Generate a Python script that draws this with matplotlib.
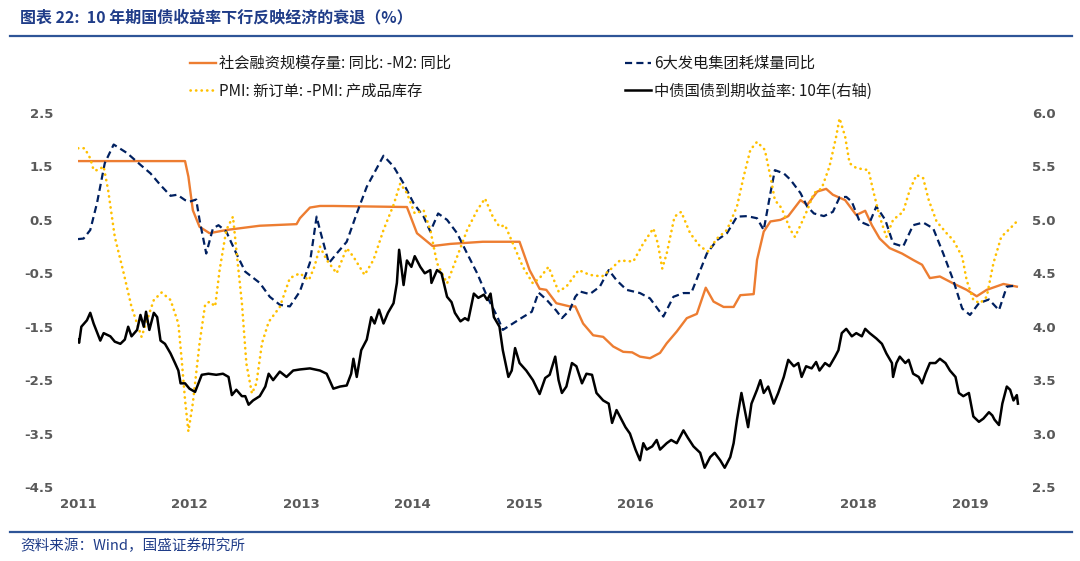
import numpy as np
import matplotlib
matplotlib.use("Agg")
import matplotlib.pyplot as plt
from matplotlib.lines import Line2D

plt.rcParams['font.family'] = ['Noto Sans CJK SC', 'DejaVu Sans']

# 社会融资规模存量:同比 - M2:同比 (left axis)
tsf_x = [2011.00, 2011.96, 2011.99, 2012.03, 2012.09, 2012.18, 2012.33, 2012.63, 2012.96, 2012.99,
         2013.08, 2013.17, 2013.29, 2013.95, 2014.04, 2014.18, 2014.34, 2014.63, 2014.96, 2015.05,
         2015.14, 2015.20, 2015.29, 2015.41, 2015.46, 2015.53, 2015.62, 2015.71, 2015.80, 2015.89,
         2015.97, 2016.04, 2016.13, 2016.22, 2016.28, 2016.37, 2016.46, 2016.55, 2016.63, 2016.70,
         2016.79, 2016.88, 2016.94, 2017.06, 2017.09, 2017.15, 2017.21, 2017.30, 2017.37, 2017.48,
         2017.54, 2017.63, 2017.71, 2017.77, 2017.88, 2017.98, 2018.06, 2018.12, 2018.19, 2018.28,
         2018.39, 2018.49, 2018.57, 2018.64, 2018.73, 2018.85, 2018.97, 2019.06, 2019.15, 2019.30,
         2019.42]
tsf_y = [1.60, 1.60, 1.31, 0.68, 0.37, 0.25, 0.31, 0.39, 0.42, 0.53,
         0.73, 0.76, 0.76, 0.74, 0.25, 0.01, 0.05, 0.09, 0.09, -0.44,
         -0.79, -0.81, -1.06, -1.12, -1.12, -1.44, -1.66, -1.69, -1.87, -1.97,
         -1.98, -2.06, -2.09, -1.99, -1.81, -1.59, -1.34, -1.26, -0.77, -1.03,
         -1.13, -1.13, -0.91, -0.89, -0.25, 0.28, 0.47, 0.50, 0.57, 0.87,
         0.78, 1.03, 1.08, 0.97, 0.87, 0.59, 0.67, 0.40, 0.15, -0.03,
         -0.13, -0.25, -0.34, -0.59, -0.56, -0.69, -0.81, -0.93, -0.81, -0.70,
         -0.75]

# 6大发电集团耗煤量同比 (left axis)
coal_x = [2011.00, 2011.05, 2011.11, 2011.17, 2011.24, 2011.32, 2011.44, 2011.56, 2011.65, 2011.74,
          2011.83, 2011.89, 2011.96, 2012.00, 2012.06, 2012.09, 2012.15, 2012.21, 2012.26, 2012.33,
          2012.42, 2012.50, 2012.63, 2012.72, 2012.81, 2012.90, 2012.99, 2013.08, 2013.14, 2013.17,
          2013.25, 2013.32, 2013.41, 2013.50, 2013.59, 2013.74, 2013.83, 2013.92, 2014.01, 2014.10,
          2014.16, 2014.23, 2014.31, 2014.40, 2014.49, 2014.58, 2014.67, 2014.76, 2014.81, 2014.90,
          2014.99, 2015.07, 2015.13, 2015.20, 2015.29, 2015.34, 2015.41, 2015.46, 2015.50, 2015.59,
          2015.68, 2015.76, 2015.83, 2015.92, 2016.04, 2016.13, 2016.25, 2016.34, 2016.43, 2016.50,
          2016.64, 2016.73, 2016.82, 2016.91, 2017.00, 2017.09, 2017.15, 2017.21, 2017.25, 2017.33,
          2017.39, 2017.48, 2017.54, 2017.60, 2017.69, 2017.77, 2017.83, 2017.89, 2017.94, 2018.01,
          2018.09, 2018.16, 2018.24, 2018.31, 2018.40, 2018.49, 2018.58, 2018.67, 2018.76, 2018.85,
          2018.93, 2019.00, 2019.08, 2019.17, 2019.26, 2019.33, 2019.42]
coal_y = [0.14, 0.15, 0.31, 0.81, 1.56, 1.91, 1.75, 1.53, 1.37, 1.15,
          0.95, 0.97, 0.87, 0.84, 0.88, 0.50, -0.13, 0.34, 0.40, 0.28,
          -0.13, -0.47, -0.68, -0.94, -1.09, -1.12, -0.84, -0.30, 0.56, 0.31,
          -0.31, -0.13, 0.09, 0.62, 1.12, 1.70, 1.50, 1.18, 0.81, 0.56,
          0.28, 0.62, 0.50, 0.25, -0.13, -0.50, -0.94, -1.31, -1.56, -1.44,
          -1.32, -1.22, -0.86, -0.99, -1.20, -1.34, -1.19, -0.94, -0.84, -0.89,
          -0.75, -0.44, -0.63, -0.81, -0.87, -0.97, -1.31, -0.94, -0.87, -0.87,
          -0.13, 0.12, 0.25, 0.56, 0.57, 0.53, 0.31, 1.00, 1.43, 1.37,
          1.25, 1.00, 0.75, 0.62, 0.57, 0.65, 0.92, 0.93, 0.84, 0.47,
          0.40, 0.75, 0.50, 0.06, 0.00, 0.40, 0.45, 0.34, -0.13, -0.63,
          -1.16, -1.28, -1.06, -0.99, -1.19, -0.75, -0.73]

# PMI:新订单 - PMI:产成品库存 (left axis)
pmi_x = [2011.00, 2011.06, 2011.11, 2011.14, 2011.18, 2011.23, 2011.27, 2011.33, 2011.41, 2011.48,
         2011.54, 2011.57, 2011.62, 2011.68, 2011.75, 2011.83, 2011.90, 2011.93, 2011.96, 2011.99,
         2012.03, 2012.09, 2012.14, 2012.18, 2012.23, 2012.27, 2012.33, 2012.39, 2012.42, 2012.47,
         2012.51, 2012.56, 2012.60, 2012.65, 2012.71, 2012.81, 2012.90, 2012.99, 2013.07, 2013.12,
         2013.17, 2013.23, 2013.32, 2013.41, 2013.47, 2013.57, 2013.65, 2013.74, 2013.83, 2013.89,
         2013.95, 2014.02, 2014.10, 2014.16, 2014.22, 2014.31, 2014.40, 2014.49, 2014.58, 2014.65,
         2014.72, 2014.78, 2014.83, 2014.90, 2014.99, 2015.08, 2015.14, 2015.22, 2015.31, 2015.38,
         2015.49, 2015.59, 2015.70, 2015.77, 2015.86, 2015.98, 2016.07, 2016.16, 2016.20, 2016.24,
         2016.28, 2016.35, 2016.41, 2016.49, 2016.58, 2016.65, 2016.73, 2016.82, 2016.91, 2016.97,
         2017.03, 2017.09, 2017.16, 2017.21, 2017.25, 2017.31, 2017.39, 2017.43, 2017.48, 2017.54,
         2017.60, 2017.67, 2017.74, 2017.80, 2017.83, 2017.88, 2017.92, 2017.98, 2018.09, 2018.13,
         2018.19, 2018.25, 2018.31, 2018.40, 2018.46, 2018.52, 2018.58, 2018.63, 2018.70, 2018.79,
         2018.85, 2018.93, 2018.97, 2019.03, 2019.09, 2019.15, 2019.21, 2019.28, 2019.36, 2019.42]
pmi_y = [1.84, 1.84, 1.65, 1.43, 1.43, 1.50, 1.06, 0.18, -0.50, -1.13,
         -1.50, -1.69, -1.37, -1.00, -0.86, -1.00, -1.44, -2.12, -2.87, -3.46,
         -2.93, -1.81, -1.09, -1.03, -1.12, -0.44, 0.31, 0.56, -0.06, -1.06,
         -2.19, -2.75, -2.56, -1.81, -1.41, -1.13, -0.59, -0.50, -0.63, -0.38,
         0.00, -0.25, -0.50, -0.03, -0.19, -0.53, -0.25, 0.31, 0.78, 1.18,
         1.00, 0.62, 0.68, 0.31, -0.31, -0.69, -0.19, 0.31, 0.68, 0.90,
         0.56, 0.37, 0.40, 0.06, -0.38, -0.69, -0.59, -0.38, -0.84, -0.75,
         -0.44, -0.53, -0.56, -0.44, -0.26, -0.28, 0.06, 0.34, 0.06, -0.41,
         -0.13, 0.56, 0.65, 0.25, 0.00, -0.09, 0.15, 0.31, 0.75, 1.31,
         1.81, 1.96, 1.81, 1.31, 0.87, 0.72, 0.31, 0.18, 0.40, 0.68,
         1.00, 1.09, 1.50, 2.06, 2.40, 2.06, 1.56, 1.47, 1.43, 1.06,
         0.56, 0.18, 0.50, 0.65, 1.06, 1.34, 1.28, 0.87, 0.47, 0.25,
         0.12, -0.19, -0.63, -1.00, -1.06, -0.94, -0.31, 0.18, 0.34, 0.47]

# 中债国债到期收益率:10年 (right axis)
cgb_x = [2011.00, 2011.01, 2011.03, 2011.08, 2011.11, 2011.14, 2011.17, 2011.20, 2011.23, 2011.29,
         2011.33, 2011.38, 2011.42, 2011.45, 2011.48, 2011.53, 2011.56, 2011.59, 2011.61, 2011.64,
         2011.68, 2011.71, 2011.74, 2011.78, 2011.83, 2011.87, 2011.90, 2011.92, 2011.96, 2012.00,
         2012.05, 2012.08, 2012.11, 2012.17, 2012.24, 2012.30, 2012.35, 2012.38, 2012.42, 2012.47,
         2012.50, 2012.53, 2012.57, 2012.63, 2012.68, 2012.71, 2012.75, 2012.81, 2012.87, 2012.93,
         2012.99, 2013.08, 2013.17, 2013.23, 2013.29, 2013.35, 2013.41, 2013.45, 2013.47, 2013.50,
         2013.54, 2013.59, 2013.63, 2013.66, 2013.70, 2013.74, 2013.78, 2013.83, 2013.86, 2013.88,
         2013.90, 2013.92, 2013.95, 2013.99, 2014.02, 2014.07, 2014.11, 2014.16, 2014.17, 2014.22,
         2014.26, 2014.31, 2014.35, 2014.38, 2014.43, 2014.47, 2014.50, 2014.55, 2014.59, 2014.64,
         2014.67, 2014.70, 2014.73, 2014.78, 2014.81, 2014.86, 2014.89, 2014.92, 2014.96, 2015.02,
         2015.08, 2015.14, 2015.19, 2015.23, 2015.28, 2015.31, 2015.34, 2015.38, 2015.43, 2015.47,
         2015.52, 2015.56, 2015.61, 2015.65, 2015.71, 2015.76, 2015.79, 2015.83, 2015.86, 2015.91,
         2015.95, 2016.00, 2016.04, 2016.07, 2016.10, 2016.15, 2016.19, 2016.22, 2016.28, 2016.32,
         2016.37, 2016.43, 2016.47, 2016.52, 2016.58, 2016.62, 2016.67, 2016.71, 2016.76, 2016.80,
         2016.85, 2016.88, 2016.91, 2016.95, 2016.98, 2017.01, 2017.04, 2017.09, 2017.12, 2017.15,
         2017.19, 2017.24, 2017.28, 2017.33, 2017.37, 2017.42, 2017.46, 2017.49, 2017.53, 2017.58,
         2017.62, 2017.65, 2017.70, 2017.74, 2017.79, 2017.82, 2017.85, 2017.89, 2017.94, 2017.98,
         2018.03, 2018.06, 2018.10, 2018.16, 2018.21, 2018.25, 2018.30, 2018.31, 2018.34, 2018.37,
         2018.42, 2018.45, 2018.49, 2018.54, 2018.57, 2018.60, 2018.64, 2018.69, 2018.73, 2018.78,
         2018.82, 2018.87, 2018.90, 2018.94, 2018.99, 2019.03, 2019.08, 2019.12, 2019.17, 2019.20,
         2019.22, 2019.26, 2019.29, 2019.33, 2019.36, 2019.39, 2019.42, 2019.43]
cgb_y = [3.88, 3.85, 4.00, 4.06, 4.13, 4.03, 3.95, 3.87, 3.94, 3.91,
         3.86, 3.84, 3.88, 4.00, 3.91, 3.97, 4.11, 4.00, 4.14, 3.97,
         4.13, 4.09, 3.87, 3.84, 3.75, 3.66, 3.59, 3.47, 3.47, 3.42,
         3.39, 3.47, 3.55, 3.56, 3.55, 3.56, 3.53, 3.36, 3.41, 3.35,
         3.35, 3.27, 3.31, 3.35, 3.44, 3.56, 3.50, 3.58, 3.53, 3.59,
         3.60, 3.61, 3.59, 3.56, 3.42, 3.44, 3.45, 3.56, 3.70, 3.53,
         3.78, 3.88, 4.09, 4.03, 4.16, 4.03, 4.13, 4.22, 4.41, 4.72,
         4.56, 4.39, 4.62, 4.56, 4.66, 4.56, 4.50, 4.53, 4.41, 4.53,
         4.50, 4.28, 4.23, 4.13, 4.05, 4.08, 4.06, 4.31, 4.27, 4.30,
         4.25, 4.31, 4.09, 4.00, 3.78, 3.53, 3.59, 3.80, 3.66, 3.59,
         3.50, 3.37, 3.52, 3.55, 3.72, 3.50, 3.38, 3.44, 3.66, 3.63,
         3.47, 3.56, 3.55, 3.38, 3.31, 3.28, 3.10, 3.22, 3.16, 3.06,
         3.00, 2.85, 2.75, 2.91, 2.85, 2.88, 2.94, 2.85, 2.91, 2.94,
         2.91, 3.03, 2.96, 2.88, 2.82, 2.68, 2.78, 2.82, 2.75, 2.68,
         2.78, 2.91, 3.13, 3.38, 3.22, 3.06, 3.28, 3.41, 3.50, 3.38,
         3.44, 3.28, 3.38, 3.53, 3.69, 3.63, 3.66, 3.53, 3.63, 3.61,
         3.67, 3.59, 3.66, 3.63, 3.72, 3.78, 3.94, 3.98, 3.91, 3.94,
         3.91, 3.98, 3.94, 3.89, 3.84, 3.75, 3.66, 3.53, 3.66, 3.72,
         3.66, 3.69, 3.56, 3.53, 3.47, 3.56, 3.66, 3.66, 3.70, 3.66,
         3.59, 3.53, 3.38, 3.35, 3.38, 3.16, 3.11, 3.14, 3.20, 3.17,
         3.13, 3.08, 3.28, 3.44, 3.41, 3.31, 3.36, 3.28]

years = list(range(2011, 2020))
left_ticks = [-4.5, -3.5, -2.5, -1.5, -0.5, 0.5, 1.5, 2.5]
right_ticks = [2.5, 3.0, 3.5, 4.0, 4.5, 5.0, 5.5, 6.0]

label_tsf = "社会融资规模存量: 同比: -M2: 同比"
label_coal = "6大发电集团耗煤量同比"
label_pmi = "PMI: 新订单: -PMI: 产成品库存"
label_cgb = "中债国债到期收益率: 10年(右轴)"

c_orange = "#ED7D31"
c_navy = "#002060"
c_yellow = "#FFC000"
c_black = "#000000"
c_tick = "#595959"
c_blue = "#2E5597"

fig = plt.figure(figsize=(10.8, 5.61), dpi=100)
ax = fig.add_axes([78 / 1080, 1 - 487 / 561, (1021 - 78) / 1080, (487 - 113) / 561])
ax2 = ax.twinx()

ax.plot(tsf_x, tsf_y, color=c_orange, lw=1.7, solid_joinstyle="round")
ax.plot(coal_x, coal_y, color=c_navy, lw=1.6, linestyle=(0, (3.2, 1.9)))
ax.plot(pmi_x, pmi_y, color=c_yellow, lw=1.9, linestyle=(0, (0.1, 2.0)), dash_capstyle="round")
ax2.plot(cgb_x, cgb_y, color=c_black, lw=1.8, solid_joinstyle="round")

ax.set_xlim(2011, 2011 + (1021 - 78) / 111.5)
ax.set_ylim(-4.5, 2.5)
ax2.set_ylim(2.5, 6.0)

ax.set_xticks(years)
ax.set_xticklabels([str(y) for y in years])
ax.set_yticks(left_ticks)
ax.set_yticklabels([f"{v:.1f}" for v in left_ticks])
ax2.set_yticks(right_ticks)
ax2.set_yticklabels([f"{v:.1f}" for v in right_ticks])

for a in (ax, ax2):
    for s in a.spines.values():
        s.set_visible(False)
    for lab in a.get_xticklabels() + a.get_yticklabels():
        lab.set_fontfamily("DejaVu Sans")
        lab.set_fontweight("bold")
        lab.set_fontsize(9.5)
        lab.set_color(c_tick)
ax.tick_params(axis="both", length=0)
ax.tick_params(axis="y", pad=18)
ax.tick_params(axis="x", pad=8)
ax2.tick_params(axis="y", length=0, pad=8)

# legends (two columns)
h_tsf = Line2D([], [], color=c_orange, lw=1.7)
h_pmi = Line2D([], [], color=c_yellow, lw=1.9, linestyle=(0, (0.1, 2.0)), dash_capstyle="round")
h_coal = Line2D([], [], color=c_navy, lw=1.6, linestyle=(0, (3.2, 1.9)))
h_cgb = Line2D([], [], color=c_black, lw=1.8)
leg_kw = dict(loc="upper left", frameon=False, fontsize=11, handlelength=1.7,
              handletextpad=0.2, labelspacing=0.7, borderpad=0, borderaxespad=0)
leg1 = fig.legend([h_tsf, h_pmi], [label_tsf, label_pmi],
                  bbox_to_anchor=(190 / 1080, 1 - 55 / 561), **leg_kw)
leg2 = fig.legend([h_coal, h_cgb], [label_coal, label_cgb],
                  bbox_to_anchor=(625 / 1080, 1 - 55 / 561), **leg_kw)
for leg in (leg1, leg2):
    for t in leg.get_texts():
        t.set_color("#1a1a1a")

# title, source and rules
fig.text(20 / 1080, 1 - 17 / 561, "图表 22:  10 年期国债收益率下行反映经济的衰退（%）",
         fontsize=11.5, color="#1F3C88", va="center", ha="left", style="italic",
         fontweight="bold")
fig.text(20 / 1080, 1 - 546 / 561, "资料来源：Wind，国盛证券研究所",
         fontsize=10.5, color="#1F3C88", va="center", ha="left", style="italic")
fig.add_artist(Line2D([10 / 1080, 1072 / 1080], [1 - 36 / 561, 1 - 36 / 561],
                      color=c_blue, lw=1.6))
fig.add_artist(Line2D([10 / 1080, 1072 / 1080], [1 - 532 / 561, 1 - 532 / 561],
                      color=c_blue, lw=1.6))

fig.savefig("out.png", dpi=100)
